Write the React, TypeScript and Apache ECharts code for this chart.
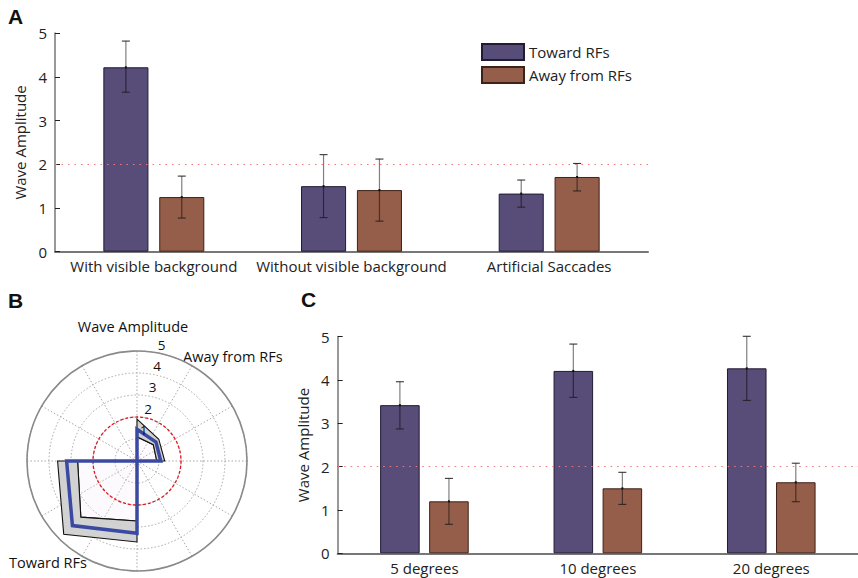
import React, { useEffect, useRef } from 'react';
import * as echarts from 'echarts';

// ---------- Panel A data ----------
const categoriesA = ['With visible background', 'Without visible background', 'Artificial Saccades'];
const towardA = [4.22, 1.5, 1.33];
const towardALow = [3.65, 0.78, 1.02];
const towardAHigh = [4.82, 2.22, 1.64];
const awayA = [1.25, 1.41, 1.71];
const awayALow = [0.77, 0.7, 1.39];
const awayAHigh = [1.73, 2.12, 2.02];

// ---------- Panel C data ----------
const categoriesC = ['5 degrees', '10 degrees', '20 degrees'];
const towardC = [3.42, 4.21, 4.27];
const towardCLow = [2.87, 3.6, 3.53];
const towardCHigh = [3.96, 4.83, 5.01];
const awayC = [1.2, 1.5, 1.64];
const awayCLow = [0.67, 1.13, 1.19];
const awayCHigh = [1.73, 1.87, 2.08];

// ---------- Panel B data (polar: [radius, angle]) ----------
const awayAngles = [90, 45, 0];
const awayMean = [1.44, 1.22, 1.08];
const awayUpper = [1.9, 1.4, 1.26];
const awayLower = [1.1, 1.05, 0.9];
const towardAngles = [180, 225, 270];
const towardMean = [3.2, 4.15, 3.28];
const towardUpper = [3.61, 4.71, 3.68];
const towardLower = [2.7, 3.61, 2.73];
const radiusTickLabels = [1, 2, 3, 4, 5];

const THRESHOLD = 2;
const seriesNames = ['Toward RFs', 'Away from RFs'];

const FONT = '"Open Sans", sans-serif';
const TOWARD_COLOR = '#584c78';
const TOWARD_BORDER = '#221b33';
const AWAY_COLOR = '#955e4a';
const AWAY_BORDER = '#3e2117';

function errorSeries(name: string, gi: number, mean: number[], low: number[], high: number[], side: number) {
  return {
    type: 'custom',
    name: name + ' err',
    xAxisIndex: gi,
    yAxisIndex: gi,
    z: 5,
    silent: true,
    data: mean.map((m, i) => [i, low[i], high[i], m]),
    renderItem: (_params: any, api: any) => {
      const i = api.value(0);
      const band = api.size([1, 0])[0];
      const off = side * band * 0.1414;
      const pL = api.coord([i, api.value(1)]);
      const pH = api.coord([i, api.value(2)]);
      const pM = api.coord([i, api.value(3)]);
      const x = pM[0] + off;
      const cap = 4;
      return {
        type: 'group',
        children: [
          { type: 'line', shape: { x1: x, y1: pH[1], x2: x, y2: pL[1] }, style: { stroke: 'rgba(0,0,0,0.5)', lineWidth: 1.2 } },
          { type: 'line', shape: { x1: x - cap, y1: pH[1], x2: x + cap, y2: pH[1] }, style: { stroke: '#222', lineWidth: 1 } },
          { type: 'line', shape: { x1: x - cap, y1: pL[1], x2: x + cap, y2: pL[1] }, style: { stroke: '#222', lineWidth: 1 } },
          { type: 'rect', shape: { x: x - 1, y: pM[1] - 1, width: 2, height: 2 }, style: { fill: '#111' } },
        ],
      };
    },
  };
}

function barSeries(name: string, gi: number, data: number[], color: string, border: string, withMark: boolean) {
  const s: any = {
    type: 'bar',
    name,
    xAxisIndex: gi,
    yAxisIndex: gi,
    data,
    barWidth: '22.8%',
    barGap: '24%',
    itemStyle: { color, borderColor: border, borderWidth: 1 },
  };
  if (withMark) {
    s.markLine = {
      silent: true,
      symbol: 'none',
      label: { show: false },
      lineStyle: { color: '#f07a7a', type: [1.5, 5], width: 1.2 },
      data: [{ yAxis: THRESHOLD }],
    };
  }
  return s;
}

function polygonSeries(points: number[][], fill: string, stroke: string, lw: number) {
  return {
    type: 'custom',
    coordinateSystem: 'polar',
    polarIndex: 0,
    silent: true,
    data: points,
    renderItem: (params: any, api: any) => {
      if (params.dataIndex !== 0) return null;
      const pts = points.map((p) => api.coord(p));
      return { type: 'polygon', shape: { points: pts }, style: { fill, stroke, lineWidth: lw, lineJoin: 'miter' } };
    },
  };
}

function yAxisCfg(gi: number, nameGap: number) {
  return {
    gridIndex: gi,
    type: 'value',
    min: 0,
    max: 5,
    interval: 1,
    name: 'Wave Amplitude',
    nameLocation: 'middle',
    nameGap,
    nameTextStyle: { fontSize: 15, color: '#222', fontFamily: FONT },
    axisLine: { show: true, lineStyle: { color: '#999', width: 2 } },
    axisTick: { show: true, inside: true, length: 5, lineStyle: { color: '#222', width: 1 } },
    axisLabel: { fontSize: 15, color: '#222', fontFamily: FONT, margin: 8 },
    splitLine: { show: false },
  };
}

function xAxisCfg(gi: number, data: string[]) {
  return {
    gridIndex: gi,
    type: 'category',
    data,
    axisLine: { lineStyle: { color: '#777', width: 2 } },
    axisTick: { alignWithLabel: true, inside: true, length: 6, lineStyle: { color: '#111', width: 1 } },
    axisLabel: { fontSize: 15, color: '#222', fontFamily: FONT, margin: 7, interval: 0 },
    splitLine: { show: false },
  };
}

const awayBand = [
  ...awayAngles.map((a, i) => [awayUpper[i], a]),
  ...awayAngles.map((a, i) => [awayLower[i], a]).reverse(),
];
const awayInner = [[0, 0], ...awayAngles.map((a, i) => [awayLower[i], a])];
const towardBand = [
  ...towardAngles.map((a, i) => [towardUpper[i], a]),
  ...towardAngles.map((a, i) => [towardLower[i], a]).reverse(),
];
const towardInner = [[0, 0], ...towardAngles.map((a, i) => [towardLower[i], a])];
const blueLine = [
  [0, 0],
  ...awayAngles.map((a, i) => [awayMean[i], a]),
  [0, 0],
  ...towardAngles.map((a, i) => [towardMean[i], a]),
  [0, 0],
];

const option: any = {
  animation: false,
  backgroundColor: '#fff',
  textStyle: { fontFamily: FONT },
  grid: [
    { left: 55, top: 33.2, right: 210, bottom: 326.3, containLabel: false },
    { left: 337.7, top: 336.7, right: -8, bottom: 24.7, containLabel: false },
  ],
  xAxis: [xAxisCfg(0, categoriesA), xAxisCfg(1, categoriesC)],
  yAxis: [yAxisCfg(0, 22), yAxisCfg(1, 24)],
  polar: [
    { center: [137, 461], radius: 110 },
    { center: [137, 461], radius: 118.8 },
  ],
  angleAxis: [
    {
      polarIndex: 0,
      type: 'value',
      min: 0,
      max: 360,
      interval: 30,
      startAngle: 0,
      clockwise: false,
      axisLine: { lineStyle: { color: '#8a8a8a', width: 1.6 } },
      axisTick: { show: false },
      axisLabel: { show: false },
      splitLine: { show: true, lineStyle: { color: '#a8a8a8', type: [1.5, 2], width: 1 } },
    },
    { polarIndex: 1, type: 'value', min: 0, max: 360, startAngle: 78, clockwise: false, show: false },
  ],
  radiusAxis: [
    {
      polarIndex: 0,
      type: 'value',
      min: 0,
      max: 5,
      interval: 1,
      axisLine: { show: false },
      axisTick: { show: false },
      axisLabel: { show: false },
      splitLine: { show: true, lineStyle: { color: '#a8a8a8', type: [1.5, 2], width: 1 } },
    },
    {
      polarIndex: 1,
      type: 'value',
      min: -0.45,
      max: 5,
      z: 10,
      axisLine: { show: false },
      axisTick: { show: false },
      splitLine: { show: false },
      axisLabel: {
        customValues: radiusTickLabels,
        margin: 0,
        align: 'center',
        verticalAlign: 'middle',
        fontSize: 13.5,
        lineHeight: 12,
        color: '#111',
        fontFamily: FONT,
        hideOverlap: false,
      },
    },
  ],
  legend: {
    orient: 'vertical',
    left: 481,
    top: 43,
    itemWidth: 42,
    itemHeight: 16,
    itemGap: 5,
    padding: 0,
    icon: 'rect',
    textStyle: { fontSize: 15, color: '#222', fontFamily: FONT },
    data: seriesNames,
  },
  graphic: [
    { type: 'text', x: 8, y: 6, style: { text: 'A', font: 'bold 21px "Liberation Sans", Arial, sans-serif', fill: '#111', textVerticalAlign: 'top' } },
    { type: 'text', x: 8, y: 290, style: { text: 'B', font: 'bold 21px "Liberation Sans", Arial, sans-serif', fill: '#111', textVerticalAlign: 'top' } },
    { type: 'text', x: 301, y: 289, style: { text: 'C', font: 'bold 21px "Liberation Sans", Arial, sans-serif', fill: '#111', textVerticalAlign: 'top' } },
    { type: 'text', x: 133, y: 326.5, style: { text: 'Wave Amplitude', font: '14.5px "Open Sans", sans-serif', lineHeight: 14, fill: '#111', textAlign: 'center', textVerticalAlign: 'middle' } },
    { type: 'text', x: 183, y: 356, style: { text: 'Away from RFs', font: '14.5px "Open Sans", sans-serif', lineHeight: 14, fill: '#111', textAlign: 'left', textVerticalAlign: 'middle' } },
    { type: 'text', x: 9, y: 562, style: { text: 'Toward RFs', font: '14.5px "Open Sans", sans-serif', lineHeight: 14, fill: '#111', textAlign: 'left', textVerticalAlign: 'middle' } },
  ],
  series: [
    barSeries(seriesNames[0], 0, towardA, TOWARD_COLOR, TOWARD_BORDER, true),
    barSeries(seriesNames[1], 0, awayA, AWAY_COLOR, AWAY_BORDER, false),
    errorSeries(seriesNames[0], 0, towardA, towardALow, towardAHigh, -1),
    errorSeries(seriesNames[1], 0, awayA, awayALow, awayAHigh, 1),
    barSeries(seriesNames[0], 1, towardC, TOWARD_COLOR, TOWARD_BORDER, true),
    barSeries(seriesNames[1], 1, awayC, AWAY_COLOR, AWAY_BORDER, false),
    errorSeries(seriesNames[0], 1, towardC, towardCLow, towardCHigh, -1),
    errorSeries(seriesNames[1], 1, awayC, awayCLow, awayCHigh, 1),
    polygonSeries(awayInner, 'rgba(240,225,240,0.18)', '#111', 1.1),
    polygonSeries(towardInner, 'rgba(240,225,240,0.18)', '#111', 1.1),
    polygonSeries(awayBand, 'rgba(205,205,205,0.9)', '#111', 1.1),
    polygonSeries(towardBand, 'rgba(205,205,205,0.9)', '#111', 1.1),
    {
      type: 'custom',
      coordinateSystem: 'polar',
      polarIndex: 0,
      silent: true,
      data: [[THRESHOLD, 0]],
      renderItem: (_params: any, api: any) => {
        const c = api.coord([0, 0]);
        const p = api.coord([api.value(0), 0]);
        const r = Math.hypot(p[0] - c[0], p[1] - c[1]);
        return { type: 'circle', shape: { cx: c[0], cy: c[1], r }, style: { fill: 'none', stroke: '#e3161e', lineWidth: 1.3, lineDash: [3, 2] } };
      },
    },
    {
      type: 'line',
      name: 'mean',
      coordinateSystem: 'polar',
      polarIndex: 0,
      data: blueLine,
      symbol: 'none',
      silent: true,
      lineStyle: { color: '#3a4aa2', width: 3.5, join: 'miter' },
    },
  ],
};

export default function App() {
  const ref = useRef<HTMLDivElement>(null);
  useEffect(() => {
    const chart = echarts.init(ref.current as HTMLDivElement, null, { renderer: 'svg' });
    chart.setOption(option);
    return () => chart.dispose();
  }, []);
  return <div ref={ref} style={{ position: 'fixed', left: 0, top: 0, width: 858, height: 578 }} />;
}
